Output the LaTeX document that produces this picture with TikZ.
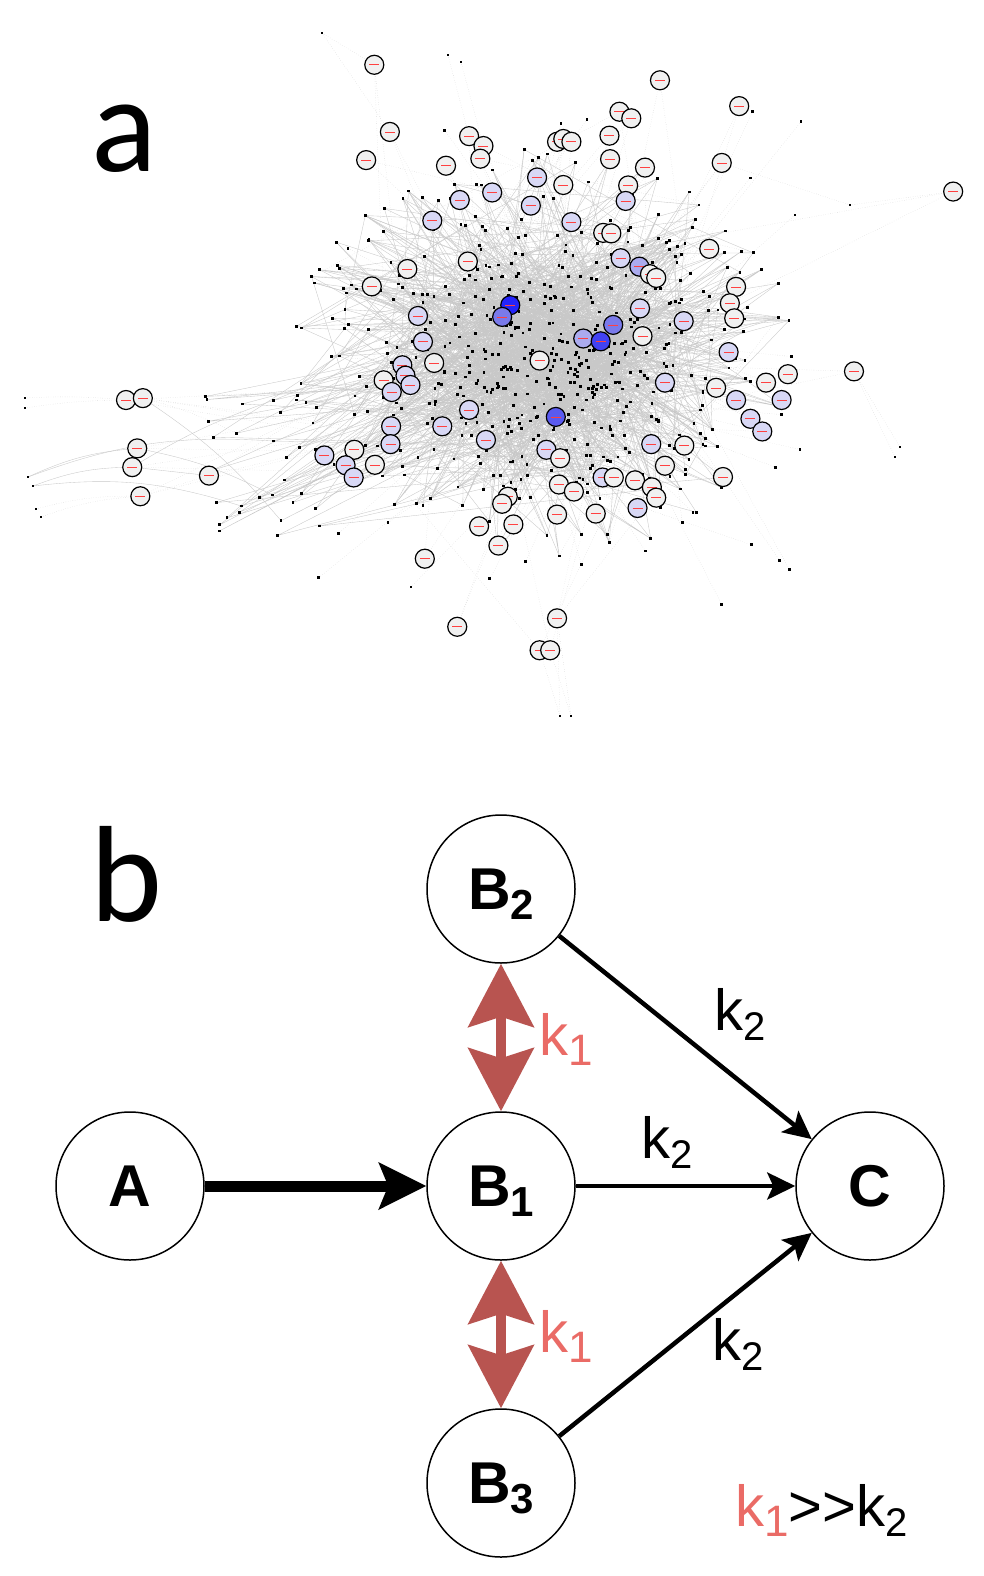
\documentclass[tikz,border=0pt]{standalone}
\usepackage{fontspec}
\setmainfont{Liberation Sans}
\newfontfamily\calib{Carlito}
\usetikzlibrary{arrows.meta}
\definecolor{wf}{HTML}{F0F0F0}
\definecolor{lv}{HTML}{D8D8F5}
\definecolor{md}{HTML}{ABABEE}
\definecolor{mb}{HTML}{7A7AEA}
\definecolor{bb}{HTML}{5A5AF0}
\definecolor{dc}{HTML}{4242F2}
\definecolor{db}{HTML}{2424FA}
\definecolor{redarrow}{HTML}{B85450}
\definecolor{redtext}{HTML}{EA6B66}
\definecolor{edgegray}{HTML}{C8C8C8}
\definecolor{labelred}{HTML}{FF4040}
\newcommand\lowsub[2]{\raisebox{-10pt}{\fontsize{#1}{#1}\selectfont #2}}
\def\circlelist{600/138/wf, 1058/171/wf, 1185/226/wf, 625/281/wf, 993/238/wf, 1012/252/wf, 752/290/wf, 775/311/wf, 770/338/wf, 587/341/wf,
715/353/wf, 893/302/wf, 903/296/wf, 916/302/wf, 977/289/wf, 978/339/wf, 1034/357/wf, 1157/347/wf, 1528/408/wf, 861/378/lv,
903/394/wf, 789/410/lv, 737/426/lv, 851/438/lv, 1007/395/wf, 1003/428/lv, 693/470/lv, 916/473/lv, 967/496/wf, 980/497/wf,
1137/530/wf, 995/550/lv, 750/557/wf, 653/573/wf, 1025/568/md, 1042/584/wf, 1052/592/wf, 596/610/wf, 1180/611/wf, 1170/646/wf,
1177/678/wf, 818/650/db, 805/675/mb, 670/673/lv, 1026/657/lv, 1096/684/lv, 983/692/mb, 935/721/md, 963/727/dc, 1030/716/wf,
678/728/lv, 1168/750/lv, 865/768/wf, 696/773/wf, 645/778/lv, 1369/791/wf, 650/800/lv, 615/810/wf, 658/820/lv, 628/835/lv,
1066/815/lv, 1228/815/wf, 1263/797/wf, 1148/826/wf, 1180/852/lv, 1253/852/lv, 1203/892/lv, 1222/919/lv, 752/873/lv, 891/888/bb,
202/852/wf, 229/848/wf, 627/908/lv, 709/908/lv, 779/937/lv, 1044/946/lv, 1097/949/wf, 626/946/lv, 568/958/wf, 520/970/lv,
554/991/lv, 567/1017/lv, 601/990/wf, 220/955/wf, 212/995/wf, 225/1057/wf, 335/1013/wf, 876/958/lv, 898/976/wf, 1066/992/wf,
966/1017/lv, 984/1017/wf, 1018/1023/wf, 1045/1038/wf, 1052/1060/wf, 1159/1016/wf, 896/1032/wf, 920/1047/wf, 814/1058/wf, 805/1073/wf,
1022/1082/lv, 893/1096/wf, 955/1094/wf, 768/1121/wf, 823/1117/wf, 799/1162/wf, 681/1190/wf, 893/1317/wf, 733/1335/wf, 865/1385/wf,
882/1385/wf}
\tikzset{
  gnode/.style={circle, draw=black, line width=1.2pt, minimum size=19pt, inner sep=0pt,
    path picture={\draw[labelred, line width=0.6pt] ([xshift=-5pt]path picture bounding box.center) -- ([xshift=5pt]path picture bounding box.center);}},
  netedge/.style={draw=edgegray, line width=0.35pt},
  faintedge/.style={draw=edgegray, line width=0.35pt, dotted},
  state/.style={circle, draw=black, line width=1.5pt, minimum size=148pt, inner sep=0pt, font=\bfseries\fontsize{59}{59}\selectfont},
  thickarrow/.style={line width=11pt, -{Stealth[length=47pt,width=46pt,inset=9pt]}},
  flowarrow/.style={line width=4.5pt, -{Stealth[length=28pt,width=27pt,inset=6pt]}},
  fastarrow/.style={draw=redarrow, line width=10pt, {Stealth[length=63pt,width=65pt,inset=10pt]}-{Stealth[length=63pt,width=65pt,inset=10pt]}},
  klabel/.style={anchor=base west, inner sep=0pt, font=\fontsize{58}{58}\selectfont},
  panel/.style={anchor=base west, inner sep=0pt, font=\calib\fontsize{137}{137}\selectfont},
}
\begin{document}
\begin{tikzpicture}[x=1pt,y=-1pt]
\path[use as bounding box, fill=white] (0,0) rectangle (983,1576);
\pgfmathsetseed{20231}
% ---------- panel a: network ----------
\foreach \i in {1,...,340}{
  \pgfmathsetmacro\px{545+90*(rand+rand)}
  \pgfmathsetmacro\py{358+75*(rand+rand)}
  \coordinate (p\i) at (\px,\py);
}
\foreach \i in {341,...,560}{
  \pgfmathsetmacro\rr{sqrt(rnd)}
  \pgfmathsetmacro\th{360*rnd}
  \pgfmathsetmacro\px{548+255*\rr*cos(\th)}
  \pgfmathsetmacro\py{352+205*\rr*sin(\th)}
  \coordinate (p\i) at (\px,\py);
}
\foreach \i in {1,...,50}{
  \pgfmathsetmacro\px{300+520*rnd}
  \pgfmathsetmacro\py{110+500*rnd}
  \coordinate (h\i) at (\px,\py);
}
\foreach \i in {1,...,30}{
  \pgfmathsetmacro\px{205+130*rnd}
  \pgfmathsetmacro\py{395+150*rnd}
  \coordinate (l\i) at (\px,\py);
}
\begin{scope}[x=0.6238pt,y=-0.4695pt]
  \foreach \x/\y/\c [count=\k] in \circlelist { \coordinate (c\k) at (\x,\y); }
\end{scope}
\coordinate (o1) at (25,398); \coordinate (o2) at (25,408);
\coordinate (o3) at (28,477); \coordinate (o4) at (33,486);
\coordinate (o5) at (36,509); \coordinate (o6) at (41,517);
\coordinate (o7) at (322,33); \coordinate (o8) at (448,55);
\coordinate (o9) at (560,716); \coordinate (o10) at (571,716);
\coordinate (o11) at (900,447); \coordinate (o12) at (895,457);
\coordinate (o13) at (850,205); \coordinate (o14) at (461,62);
% edges
\foreach \i in {1,...,560}{
  \pgfmathrandominteger{\ja}{1}{340}
  \pgfmathrandominteger{\jb}{1}{560}
  \draw[netedge] (p\i) -- (p\ja) (p\i) -- (p\jb);
}
\foreach \h in {42,49,70,43,47,48}{
  \foreach \t in {1,...,60}{
    \pgfmathrandominteger{\j}{1}{560}
    \draw[netedge] (c\h) -- (p\j);
  }
}
\foreach \i in {1,...,50}{
  \pgfmathrandominteger{\j}{1}{340}
  \draw[faintedge] (h\i) -- (p\j);
}
\foreach \i in {1,...,30}{
  \pgfmathrandominteger{\j}{1}{340}
  \pgfmathrandominteger{\jj}{1}{340}
  \draw[netedge] (l\i) -- (p\j) (l\i) -- (p\jj);
}
\foreach \k in {1,...,111}{
  \pgfmathrandominteger{\j}{1}{340}
  \pgfmathrandominteger{\jj}{1}{560}
  \draw[faintedge] (c\k) -- (p\j) (c\k) -- (p\jj);
}
\draw[faintedge] (o1) to[bend left=4] (c71);
\draw[faintedge] (o2) to[bend left=4] (c71);
\draw[netedge] (c72) to[bend left=8] (l4);
\draw[faintedge] (c72) to[bend left=6] (l9);
\draw[netedge] (o3) to[bend left=10] (c84);
\draw[netedge] (o4) to[bend left=10] (c85);
\draw[netedge] (o3) to[bend left=12] (l2);
\draw[netedge] (o4) to[bend left=12] (l7);
\draw[faintedge] (o5) to[bend left=8] (c86);
\draw[faintedge] (o6) to[bend left=8] (c86);
\draw[netedge] (c84) to[bend left=8] (l12);
\draw[netedge] (c85) to[bend left=6] (l15);
\draw[netedge] (c85) -- (c87);
\draw[faintedge] (c86) -- (c87);
\draw[faintedge] (o7) -- (c1); \draw[faintedge] (o7) -- (c4);
\draw[faintedge] (o8) -- (c7); \draw[faintedge] (o14) -- (c8);
\draw[faintedge] (o9) -- (c108); \draw[faintedge] (o10) -- (c108);
\draw[faintedge] (o9) -- (c110); \draw[faintedge] (o10) -- (c111);
\draw[faintedge] (o11) -- (c56); \draw[faintedge] (o12) -- (c56);
\draw[faintedge] (o13) -- (c19); \draw[faintedge] (o13) -- (c18);
% dots
\foreach \i in {1,...,560}{ \fill (p\i) ++(-1.4,-1.4) rectangle ++(2.8,2.8); }
\foreach \i in {1,...,50}{ \fill (h\i) ++(-1.4,-1.4) rectangle ++(2.8,2.8); }
\foreach \i in {1,...,30}{ \fill (l\i) ++(-1.4,-1.4) rectangle ++(2.8,2.8); }
\foreach \i in {1,...,14}{ \fill (o\i) ++(-1.4,-1.4) rectangle ++(2.8,2.8); }
% labelled circles
\begin{scope}[x=0.6238pt,y=-0.4695pt]
  \foreach \x/\y/\c [count=\k] in \circlelist { \node[gnode, fill=\c] (g\k) at (\x,\y) {}; }
\end{scope}
\node[panel] (pa) at (91,171) {a};
% ---------- panel b ----------
\node[panel] (pb) at (90,921) {b};
\node[state] (A) at (130,1186) {A};
\node[state] (B1) at (501,1186) {B\smash{\lowsub{42}{1}}};
\node[state] (B2) at (501,889) {B\smash{\lowsub{42}{2}}};
\node[state] (B3) at (501,1483) {B\smash{\lowsub{42}{3}}};
\node[state] (C) at (870,1186) {C};
\draw[thickarrow] (A) -- (B1);
\draw[flowarrow] (B1) -- (C);
\draw[flowarrow] (B2) -- (C);
\draw[flowarrow] (B3) -- (C);
\draw[fastarrow] (B2) -- (B1);
\draw[fastarrow] (B1) -- (B3);
\node[klabel, text=redtext] (k1a) at (539,1055) {k\lowsub{44}{1}};
\node[klabel, text=redtext] (k1b) at (539,1352) {k\lowsub{44}{1}};
\node[klabel] (k2a) at (714,1030) {k\lowsub{40}{2}};
\node[klabel] (k2b) at (641,1158) {k\lowsub{40}{2}};
\node[klabel] (k2c) at (712,1360) {k\lowsub{40}{2}};
\node[klabel] (rel) at (735,1526) {\textcolor{redtext}{k\lowsub{44}{1}}>{}>k\lowsub{40}{2}};
\end{tikzpicture}
\end{document}
